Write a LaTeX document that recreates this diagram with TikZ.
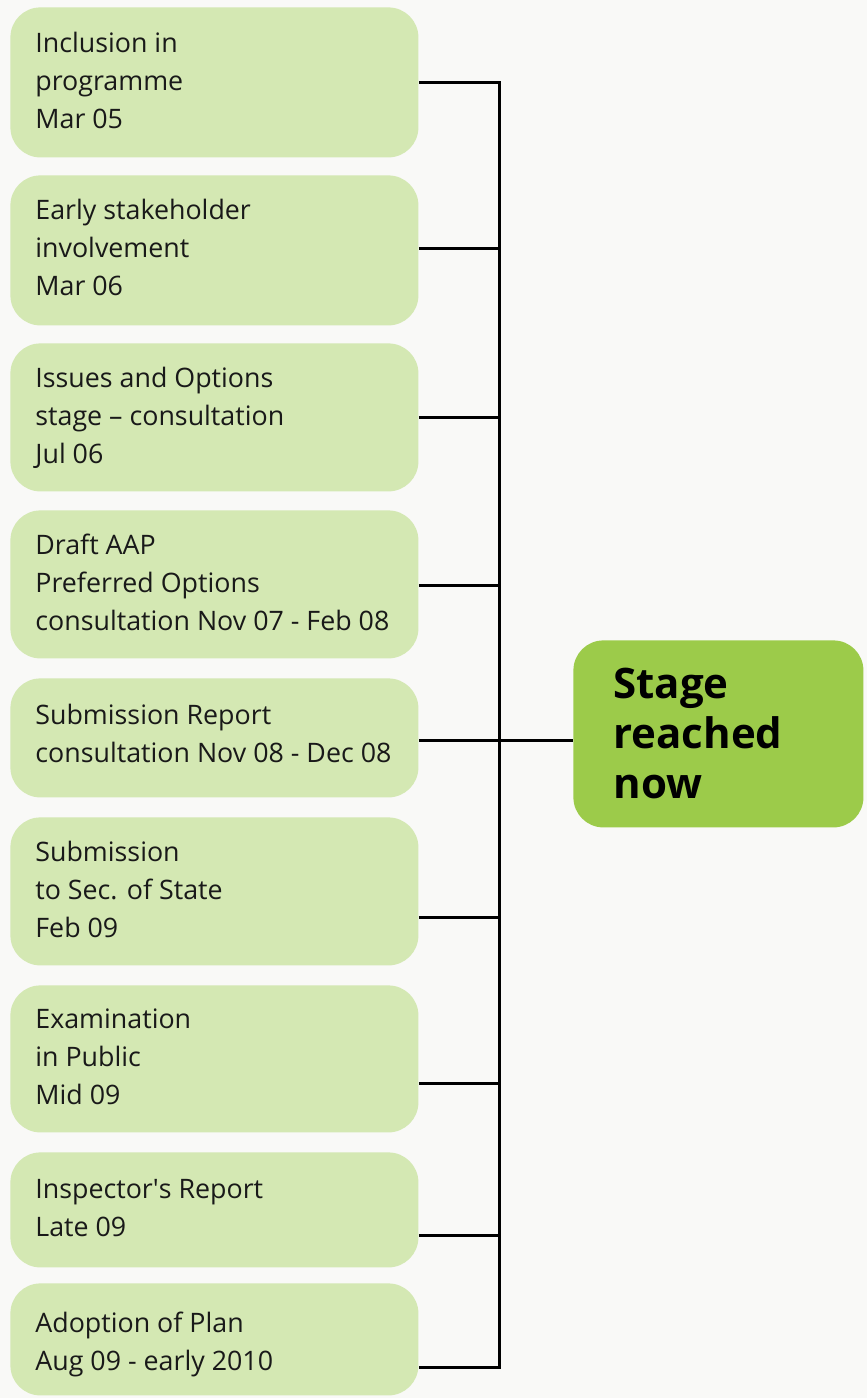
\documentclass[tikz,border=0pt]{standalone}
\usepackage{fontspec}
\setmainfont{Open Sans}
\definecolor{boxg}{HTML}{D4E8B3}
\definecolor{stageg}{HTML}{9CCB4A}
\definecolor{bgc}{HTML}{F9F9F7}
\begin{document}
\begin{tikzpicture}[x=0.5pt,y=-0.5pt,
  stepbox/.style={fill=boxg, draw=none, rounded corners=15pt, inner sep=0pt, anchor=north west, minimum width=204pt},
  stagebox/.style={fill=stageg, draw=none, rounded corners=15pt, inner sep=0pt, anchor=north west},
  lbl/.style={anchor=north west, align=left, inner sep=0pt, text=black!90, font=\fontsize{13.4}{19}\selectfont},
  stagelbl/.style={anchor=north west, align=left, inner sep=0pt, text=black, font=\fontsize{21}{25}\selectfont\bfseries},
  conn/.style={draw=black, line width=1.5pt}]
\fill[bgc] (0,0) rectangle (867,1398);
\useasboundingbox (0,0) rectangle (867,1398);
\newcommand{\fl}{\rule{0pt}{14pt}}
% boxes
\node[stepbox, minimum height=75pt] (b1) at (10,7) {};
\node[stepbox, minimum height=75pt] (b2) at (10,175) {};
\node[stepbox, minimum height=74pt] (b3) at (10,343) {};
\node[stepbox, minimum height=74pt] (b4) at (10,510) {};
\node[stepbox, minimum height=59.5pt] (b5) at (10,678) {};
\node[stepbox, minimum height=74pt] (b6) at (10,817) {};
\node[stepbox, minimum height=73.5pt] (b7) at (10,985) {};
\node[stepbox, minimum height=57.5pt] (b8) at (10,1152) {};
\node[stepbox, minimum height=56pt] (b9) at (10,1283) {};
\node[stagebox, minimum width=145pt, minimum height=93.5pt] (st) at (573,640) {};
% texts
\node[lbl] (t1) at (35,24) {\fl Inclusion in\\programme\\Mar 05};
\node[lbl] (t2) at (35,191) {\fl Early stakeholder\\involvement\\Mar 06};
\node[lbl] (t3) at (35,359) {\fl Issues and Options\\stage -- consultation\\Jul 06};
\node[lbl] (t4) at (35,526) {\fl Draft AAP\\Preferred Options\\consultation Nov 07 - Feb 08};
\node[lbl] (t5) at (35,696) {\fl Submission Report\\consultation Nov 08 - Dec 08};
\node[lbl] (t6) at (35,833) {\fl Submission\\to Sec. of State\\Feb 09};
\node[lbl] (t7) at (35,1000) {\fl Examination\\in Public\\Mid 09};
\node[lbl] (t8) at (35,1170) {\fl Inspector\textquotesingle s Report\\Late 09};
\node[lbl] (t9) at (35,1304) {\fl Adoption of Plan\\Aug 09 - early 2010};
\node[stagelbl] (ts) at (613,658) {\rule{0pt}{20pt}Stage\\reached\\now};
% connectors
\coordinate (spine) at (499,0);
\coordinate (k1) at (0,82);
\coordinate (k2) at (0,248);
\coordinate (k3) at (0,417);
\coordinate (k4) at (0,585);
\coordinate (k5) at (0,740);
\coordinate (k6) at (0,917);
\coordinate (k7) at (0,1083);
\coordinate (k8) at (0,1235);
\coordinate (k9) at (0,1367);
\draw[conn, line join=miter] (b1.east |- k1) -- (spine |- k1) -- (spine |- k9) -- (b9.east |- k9);
\draw[conn] (b2.east |- k2) -- (spine |- k2);
\draw[conn] (b3.east |- k3) -- (spine |- k3);
\draw[conn] (b4.east |- k4) -- (spine |- k4);
\draw[conn] (b5.east |- k5) -- (spine |- k5);
\draw[conn] (b6.east |- k6) -- (spine |- k6);
\draw[conn] (b7.east |- k7) -- (spine |- k7);
\draw[conn] (b8.east |- k8) -- (spine |- k8);
\draw[conn] (spine |- k5) -- (st.west |- k5);
\end{tikzpicture}
\end{document}
